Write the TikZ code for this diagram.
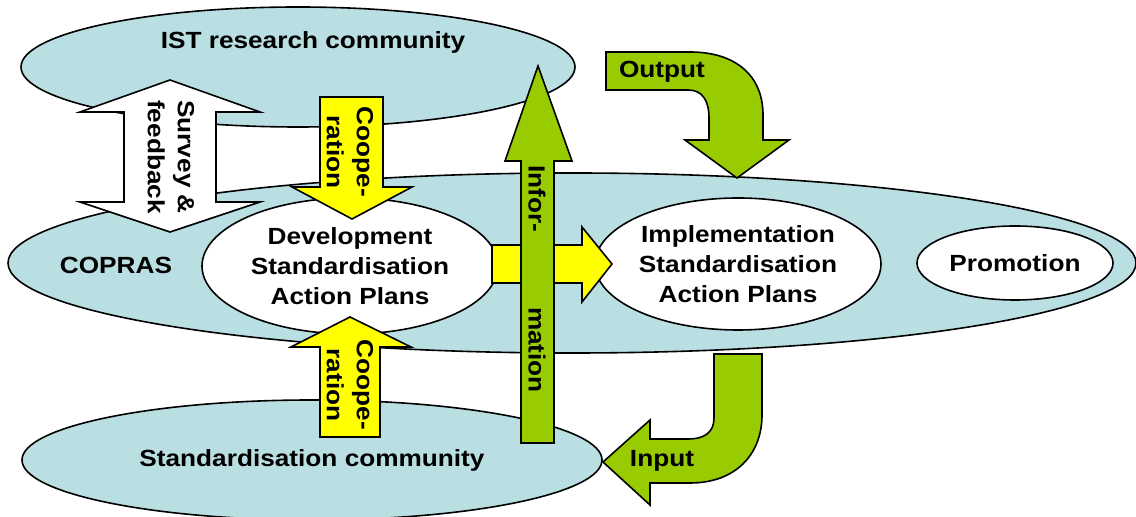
\documentclass[tikz,border=0pt]{standalone}
\usepackage{fontspec}
\setmainfont{Liberation Sans}[FakeStretch=1.12]
\usepackage{tikz}
\usetikzlibrary{positioning,shapes}
\definecolor{skyblue}{RGB}{185,223,227}
\definecolor{leaf}{RGB}{153,204,0}
\definecolor{lemon}{RGB}{255,255,0}

\begin{document}
\begin{tikzpicture}[x=0.5pt,y=-0.5pt,line width=0.8pt,
	every node/.style={font=\fontsize{11.7}{15}\selectfont\bfseries},
	blob/.style={ellipse,draw,fill=skyblue,inner sep=0pt},
	plan/.style={ellipse,draw,fill=white,inner sep=0pt,align=center},
	lbl/.style={inner sep=0pt,align=center},
	vlbl/.style={inner sep=0pt,align=center,rotate=-90},
	ylw/.style={draw,fill=lemon,line join=miter},
	grn/.style={draw,fill=leaf,line join=miter}]

	\useasboundingbox (0,0) rectangle (1136,517);

	\node[blob,minimum width=554pt/2,minimum height=120pt/2] (ist) at (298,67) {};
	\node[blob,minimum width=1128pt/2,minimum height=180pt/2] (copras) at (572,263) {};
	\node[blob,minimum width=580pt/2,minimum height=120pt/2] (stdc) at (312,460) {Standardisation community};
	\node[lbl] (istlbl) at (313,42) {IST research community};
	\node[lbl] (coprlbl) at (116,265) {COPRAS};

	% survey and feedback
	\draw[fill=white,line join=miter] (170,80) -- (260,112) -- (216,112) -- (216,202) -- (260,202)
		-- (170,232) -- (80,202) -- (124,202) -- (124,112) -- (80,112) -- cycle;
	\node[vlbl,align=left] (survey) at (171,157) {Survey \&\\feedback};

	\node[plan,minimum width=296pt/2,minimum height=136pt/2] (dev) at (350,266)
		{Development\\Standardisation\\Action Plans};
	\node[plan,minimum width=286pt/2,minimum height=132pt/2] (impl) at (738,264)
		{Implementation\\Standardisation\\Action Plans};
	\node[plan,minimum width=196pt/2,minimum height=74pt/2] (promo) at (1015,263) {Promotion};

	% cooperation
	\draw[ylw] (320,97) -- (383,97) -- (383,187) -- (412,187) -- (352,219) -- (292,187) -- (320,187) -- cycle;
	\node[vlbl] (coop1) at (350,152) {Coope-\\ration};
	\draw[ylw] (320,437) -- (380,437) -- (380,347) -- (411,347) -- (350,317) -- (291,347) -- (320,347) -- cycle;
	\node[vlbl] (coop2) at (350,385) {Coope-\\ration};

	\draw[ylw] (492,245) -- (582,245) -- (582,227) -- (612,264) -- (582,302) -- (582,283) -- (492,283) -- cycle;

	% information
	\draw[grn] (521,443) -- (554,443) -- (554,161) -- (572,161) -- (538,66) -- (505,161) -- (521,161) -- cycle;
	\node[vlbl] (info1) at (537,199) {Infor-};
	\node[vlbl] (info2) at (537,350) {mation};

	% output and input
	\draw[grn] (606,52) -- (690,52) .. controls (735,52) and (763,75) .. (763,115) -- (763,140)
		-- (789,140) -- (737,178) -- (685,140) -- (709,140) -- (709,118)
		.. controls (709,100) and (702,90) .. (688,90) -- (606,90) -- cycle;
	\node[lbl] (out) at (662,72) {Output};
	\draw[grn] (762,354) -- (762,415) .. controls (762,455) and (735,483) .. (690,483) -- (650,483)
		-- (650,505) -- (603,462) -- (650,420) -- (650,439) -- (688,439)
		.. controls (705,439) and (714,432) .. (714,418) -- (714,354) -- cycle;
	\node[lbl] (inp) at (662,461) {Input};
\end{tikzpicture}
\end{document}
